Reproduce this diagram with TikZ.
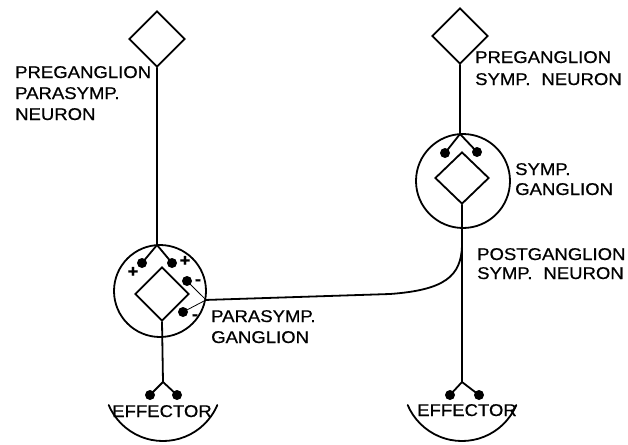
\documentclass[tikz,border=0pt]{standalone}
\usepackage{fontspec}
\setmainfont{Liberation Sans}[FakeStretch=1.09, FakeBold=0.6]
\usetikzlibrary{shapes.geometric}

\begin{document}
\begin{tikzpicture}[x=1pt,y=-1pt,
  nerve/.style={line width=1.8pt, line cap=round, line join=round},
  fine/.style={line width=0.8pt},
  cell/.style={draw, diamond, line width=1.8pt, inner sep=0pt, minimum width=56pt, minimum height=56pt},
  ganglion/.style={draw, circle, line width=1.8pt, inner sep=0pt, minimum size=92pt},
  knob/.style={fill, circle, inner sep=0pt, minimum size=10pt},
  lbl/.style={font=\fontsize{17}{21}\selectfont, align=left, inner sep=0pt, anchor=base west},
  sign/.style={font=\fontsize{17}{17}\selectfont\bfseries, inner sep=0pt},
]
\useasboundingbox (0,0) rectangle (628,444);

% ---------- parasympathetic pathway ----------
\node[cell] (lpre) at (157,39) {};
\node[ganglion] (lgang) at (160,291) {};
\node[cell, minimum width=54pt, minimum height=54pt] (lpost) at (162,294) {};
\coordinate (lfork) at (157,245);
\node[knob] (lk1) at (142,263) {};
\node[knob] (lk2) at (172,263) {};
\node[knob] (lm1) at (187,281) {};
\node[knob] (lm2) at (183,312) {};
\coordinate (ljoin) at (lgang.-11);
\coordinate (lefork) at (163,382);
\node[knob] (le1) at (150,395) {};
\node[knob] (le2) at (177,395) {};

\draw[nerve] (lpre.south) -- (lfork);
\draw[nerve] (lk1.center) -- (lfork) -- (lk2.center);
\draw[fine] (lm1.center) -- (ljoin) -- (lm2.center);
\draw[nerve] (lpost.south) -- (lefork);
\draw[nerve] (le1.center) -- (lefork) -- (le2.center);
\draw[nerve] (lefork) ++(23:59) arc[start angle=23, end angle=157, radius=59];

\node[sign] (lplus1) at (133,272) {+};
\node[sign] (lplus2) at (185,261) {+};
\node[sign] (lminus1) at (198,282) {-};
\node[sign] (lminus2) at (195,317) {-};

% ---------- sympathetic pathway ----------
\node[cell] (rpre) at (460,36) {};
\node[ganglion, minimum size=94pt] (rgang) at (463,181) {};
\node[cell, minimum width=54pt, minimum height=52pt] (rpost) at (462,178) {};
\coordinate (rfork) at (460,134);
\node[knob] (rk1) at (445,153) {};
\node[knob] (rk2) at (477,152) {};
\coordinate (refork) at (462,382);
\node[knob] (re1) at (450,395) {};
\node[knob] (re2) at (479,395) {};
\coordinate (rmerge) at (462,246);
\coordinate (rbend) at (390,294);

\draw[nerve] (rpre.south) -- (rfork);
\draw[nerve] (rk1.center) -- (rfork) -- (rk2.center);
\draw[nerve] (rpost.south) -- (refork);
\draw[nerve] (re1.center) -- (refork) -- (re2.center);
\draw[nerve] (refork) ++(23:59) arc[start angle=23, end angle=157, radius=59];

% parasympathetic ganglion to postganglionic sympathetic fibre
\draw[nerve] (ljoin) -- (rbend) .. controls (445,290) and (461,276) .. (rmerge);

% ---------- labels (anchored at the baseline of the last line) ----------
\node[lbl] (lprelbl) at (15,120) {PREGANGLION\\PARASYMP.\\NEURON};
\node[lbl] (rprelbl) at (475,85) {PREGANGLION\\[1pt]SYMP.\hspace{11pt}NEURON};
\node[lbl] (rganglbl) at (515,195) {SYMP.\\[-1pt]GANGLION};
\node[lbl] (rpostlbl) at (477,279) {POSTGANGLION\\[-2pt]SYMP.\hspace{11pt}NEURON};
\node[lbl] (lganglbl) at (211,343) {PARASYMP.\\GANGLION};
\node[lbl, anchor=base] (leff) at (162,417) {EFFECTOR};
\node[lbl, anchor=base] (reff) at (467,416) {EFFECTOR};
\end{tikzpicture}
\end{document}
